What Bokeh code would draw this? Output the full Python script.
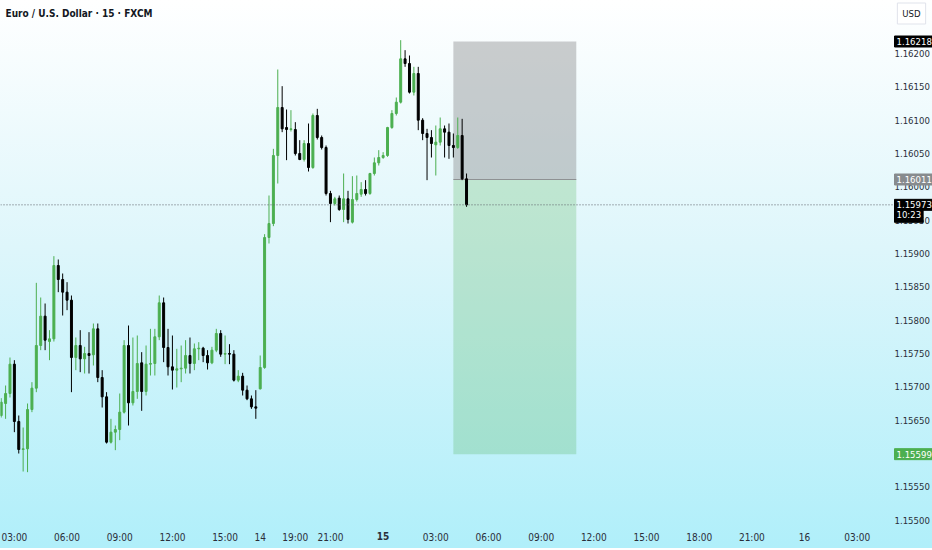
import numpy as np
from bokeh.plotting import figure
from bokeh.models import (ColumnDataSource, FixedTicker, Label, Span, Range1d,
                          PrintfTickFormatter, LinearAxis)
from bokeh.embed import file_html
from bokeh.resources import INLINE

# ---------------- data (EUR/USD, 15 min bars) ----------------
opens = [1.15657, 1.15675, 1.15690, 1.15734, 1.15648, 1.15606, 1.15607, 1.15666, 1.15698, 1.15762,
         1.15806, 1.15768, 1.15772, 1.15882, 1.15861, 1.15842, 1.15830, 1.15744, 1.15762, 1.15742,
         1.15750, 1.15748, 1.15787, 1.15714, 1.15685, 1.15617, 1.15632, 1.15636, 1.15662, 1.15762,
         1.15676, 1.15693, 1.15736, 1.15693, 1.15734, 1.15735, 1.15775, 1.15826, 1.15759, 1.15730,
         1.15725, 1.15727, 1.15728, 1.15747, 1.15735, 1.15757, 1.15758, 1.15747, 1.15736, 1.15755,
         1.15780, 1.15749, 1.15750, 1.15749, 1.15710, 1.15716, 1.15695, 1.15682, 1.15670, 1.15697,
         1.15729, 1.15924, 1.15945, 1.16047, 1.16119, 1.16089, 1.16086, 1.16086, 1.16050, 1.16041,
         1.16065, 1.16029, 1.16107, 1.16074, 1.16059, 1.15990, 1.15975, 1.15983, 1.15966, 1.15982,
         1.15947, 1.15981, 1.15989, 1.15996, 1.15990, 1.16020, 1.16036, 1.16044, 1.16047, 1.16089,
         1.16110, 1.16127, 1.16192, 1.16185, 1.16142, 1.16170, 1.16100, 1.16080, 1.16074, 1.16063,
         1.16067, 1.16087, 1.16082, 1.16062, 1.16059, 1.16077, 1.16012]
highs = [1.15683, 1.15702, 1.15744, 1.15740, 1.15657, 1.15639, 1.15675, 1.15707, 1.15856, 1.15834,
         1.15825, 1.15785, 1.15896, 1.15891, 1.15870, 1.15857, 1.15837, 1.15774, 1.15785, 1.15760,
         1.15782, 1.15795, 1.15795, 1.15725, 1.15692, 1.15652, 1.15642, 1.15690, 1.15770, 1.15792,
         1.15774, 1.15777, 1.15752, 1.15762, 1.15787, 1.15787, 1.15837, 1.15834, 1.15787, 1.15777,
         1.15757, 1.15762, 1.15770, 1.15774, 1.15765, 1.15767, 1.15760, 1.15755, 1.15760, 1.15787,
         1.15785, 1.15777, 1.15764, 1.15755, 1.15725, 1.15721, 1.15702, 1.15687, 1.15695, 1.15747,
         1.15929, 1.15987, 1.16057, 1.16176, 1.16151, 1.16116, 1.16115, 1.16097, 1.16070, 1.16070,
         1.16095, 1.16110, 1.16117, 1.16077, 1.16062, 1.15994, 1.15985, 1.15987, 1.16020, 1.15994,
         1.16016, 1.16017, 1.16007, 1.16010, 1.16021, 1.16044, 1.16055, 1.16052, 1.16090, 1.16115,
         1.16134, 1.16220, 1.16205, 1.16197, 1.16180, 1.16180, 1.16103, 1.16087, 1.16085, 1.16092,
         1.16104, 1.16092, 1.16095, 1.16080, 1.16104, 1.16102, 1.16020]
lows = [1.15654, 1.15652, 1.15684, 1.15632, 1.15600, 1.15573, 1.15572, 1.15662, 1.15692, 1.15755,
        1.15755, 1.15740, 1.15768, 1.15842, 1.15807, 1.15815, 1.15692, 1.15725, 1.15722, 1.15720,
        1.15720, 1.15732, 1.15707, 1.15669, 1.15615, 1.15615, 1.15605, 1.15620, 1.15660, 1.15642,
        1.15672, 1.15682, 1.15664, 1.15687, 1.15717, 1.15717, 1.15770, 1.15737, 1.15717, 1.15696,
        1.15699, 1.15707, 1.15720, 1.15720, 1.15725, 1.15740, 1.15737, 1.15726, 1.15734, 1.15752,
        1.15745, 1.15734, 1.15734, 1.15708, 1.15707, 1.15687, 1.15680, 1.15667, 1.15652, 1.15696,
        1.15727, 1.15915, 1.15941, 1.16005, 1.16082, 1.16040, 1.16083, 1.16047, 1.16040, 1.16038,
        1.16023, 1.16027, 1.16071, 1.16056, 1.15987, 1.15947, 1.15972, 1.15964, 1.15947, 1.15945,
        1.15945, 1.15978, 1.15985, 1.15987, 1.15988, 1.16017, 1.16032, 1.16042, 1.16045, 1.16087,
        1.16107, 1.16125, 1.16180, 1.16140, 1.16137, 1.16085, 1.16070, 1.16010, 1.16044, 1.16017,
        1.16062, 1.16044, 1.16042, 1.16044, 1.16057, 1.16010, 1.15970]
closes = [1.15677, 1.15690, 1.15734, 1.15648, 1.15606, 1.15607, 1.15666, 1.15698, 1.15762, 1.15806,
          1.15770, 1.15772, 1.15882, 1.15861, 1.15842, 1.15830, 1.15744, 1.15762, 1.15742, 1.15750,
          1.15747, 1.15787, 1.15714, 1.15685, 1.15617, 1.15632, 1.15636, 1.15662, 1.15762, 1.15676,
          1.15693, 1.15735, 1.15693, 1.15734, 1.15735, 1.15775, 1.15826, 1.15759, 1.15730, 1.15725,
          1.15727, 1.15728, 1.15747, 1.15735, 1.15757, 1.15758, 1.15747, 1.15736, 1.15755, 1.15780,
          1.15749, 1.15750, 1.15749, 1.15710, 1.15716, 1.15695, 1.15682, 1.15670, 1.15668, 1.15729,
          1.15924, 1.15945, 1.16047, 1.16119, 1.16087, 1.16086, 1.16087, 1.16050, 1.16041, 1.16065,
          1.16029, 1.16107, 1.16074, 1.16059, 1.15990, 1.15975, 1.15982, 1.15966, 1.15982, 1.15951,
          1.15981, 1.15990, 1.15996, 1.15990, 1.16020, 1.16036, 1.16044, 1.16047, 1.16089, 1.16110,
          1.16127, 1.16192, 1.16185, 1.16142, 1.16170, 1.16100, 1.16080, 1.16074, 1.16065, 1.16067,
          1.16087, 1.16082, 1.16062, 1.16059, 1.16077, 1.16012, 1.15973]

# time-axis ticks (bar index -> label); the day label "15" is drawn bold
x_tick_bars = [4, 16, 28, 40, 52, 60, 68, 76, 100, 112, 124, 136, 148, 160, 172, 184, 196]
x_tick_labels = ["03:00", "06:00", "09:00", "12:00", "15:00", "14", "19:00", "21:00", "03:00",
                 "06:00", "09:00", "12:00", "15:00", "18:00", "21:00", "16", "03:00"]
bold_tick_bars = [88]
bold_tick_labels = ["15"]
y_ticks = [1.15500, 1.15550, 1.15600, 1.15650, 1.15700, 1.15750, 1.15800, 1.15850,
           1.15900, 1.15950, 1.16000, 1.16050, 1.16100, 1.16150, 1.16200]

# short position tool
pos_start_bar, pos_end_bar = 104, 132
stop_price, entry_price, target_price = 1.16218, 1.16011, 1.15599
last_price = 1.15973
countdown = "10:23"
title_text = "Euro / U.S. Dollar \u00b7 15 \u00b7 FXCM"

# ---------------- styling / layout ----------------
FONT = "'Liberation Sans Narrow', 'DejaVu Sans Condensed', 'Roboto Condensed', Roboto, sans-serif"
UP, DOWN = "#4caf50", "#000000"
W, H = 932, 548
X0 = 0.84
PXI = 1 / 4.39                 # bar index per pixel
XE = X0 + W * PXI              # full canvas width (chart + price scale)
X_SCALE = X0 + 880 * PXI       # left edge of the price scale
Y1 = 1.162795
PXY = 0.000015                 # price per pixel
Y0 = Y1 - H * PXY              # full canvas height (chart + time scale)
Y_SCALE = Y1 - 526 * PXY       # top edge of the time scale

p = figure(width=W, height=H, x_range=Range1d(X0, XE), y_range=Range1d(Y0, Y1),
           y_axis_location="right", output_backend="svg", toolbar_location=None,
           background_fill_color=None, border_fill_color=None, outline_line_color=None,
           min_border_left=0, min_border_top=0, min_border_right=0, min_border_bottom=0)
p.styles = {"background": "linear-gradient(180deg, #ffffff 0%, #def6fb 45%, #b0effa 100%)"}
p.xgrid.visible = False
p.ygrid.visible = False

def style_axis(ax, size="10px"):
    ax.axis_line_color = None
    ax.major_tick_line_color = None
    ax.minor_tick_line_color = None
    ax.major_tick_out = 0
    ax.major_tick_in = 0
    ax.minor_tick_out = 0
    ax.major_label_text_font = FONT
    ax.major_label_text_font_size = size
    ax.major_label_text_color = "#2a2e39"

xa = p.xaxis[0]
style_axis(xa)
xa.ticker = FixedTicker(ticks=x_tick_bars)
xa.major_label_overrides = {b: t for b, t in zip(x_tick_bars, x_tick_labels)}
xa.major_label_standoff = 5
xa.fixed_location = Y_SCALE

xb = LinearAxis(ticker=FixedTicker(ticks=bold_tick_bars),
                major_label_overrides={b: t for b, t in zip(bold_tick_bars, bold_tick_labels)})
style_axis(xb)
xb.major_label_text_font_style = "bold"
xb.major_label_standoff = 5
xb.fixed_location = Y_SCALE
p.add_layout(xb, "below")

ya = p.yaxis[0]
style_axis(ya, "9.5px")
ya.ticker = FixedTicker(ticks=y_ticks)
ya.formatter = PrintfTickFormatter(format="%.5f")
ya.major_label_standoff = 14
ya.fixed_location = X_SCALE

# position boxes
p.quad(left=[pos_start_bar], right=[pos_end_bar], bottom=[entry_price], top=[stop_price],
       fill_color="#8e9193", fill_alpha=0.45, line_color=None)
p.quad(left=[pos_start_bar], right=[pos_end_bar], bottom=[target_price], top=[entry_price],
       fill_color="#4caf50", fill_alpha=0.25, line_color=None)
p.segment(x0=[pos_start_bar], x1=[pos_end_bar], y0=[entry_price], y1=[entry_price],
          line_color="#8e9193", line_width=1)

# candles
o = np.array(opens); h = np.array(highs); l = np.array(lows); c = np.array(closes)
idx = np.arange(1, len(o) + 1)
up = c >= o
for mask, col in ((up, UP), (~up, DOWN)):
    src = ColumnDataSource(dict(x=idx[mask], hi=h[mask], lo=l[mask],
                                top=np.maximum(o, c)[mask], bot=np.minimum(o, c)[mask]))
    p.segment(x0="x", y0="hi", x1="x", y1="lo", source=src, line_color=col, line_width=1)
    p.vbar(x="x", width=0.45, top="top", bottom="bot", source=src,
           fill_color=col, line_color=col, line_width=1)

# last price dotted line
p.add_layout(Span(location=last_price, dimension="width", line_color="#5d606b",
                  line_dash="1 2", line_width=1))

def tag(y, text, bg, fg="#ffffff", border=None, x=None, size="9.5px", pad=2, align="left"):
    kw = dict(x=X_SCALE + 14 * PXI if x is None else x, y=y, text=text, text_color=fg,
              text_font=FONT, text_font_size=size, text_baseline="middle",
              text_align=align, background_fill_color=bg,
              border_line_color=border if border else bg)
    try:
        lab = Label(padding=pad, **kw)
    except Exception:
        lab = Label(**kw)
    p.add_layout(lab)

tag(stop_price, "%.5f" % stop_price, "#000000")
tag(entry_price, "%.5f" % entry_price, "#878b8e")
tag(last_price - 10 * PXY, countdown, "#000000")
tag(last_price, "%.5f" % last_price, "#000000")
tag(target_price, "%.5f" % target_price, "#4caf50")
tag(Y1 - 13 * PXY, "USD", "#ffffff", fg="#131722", border="#e0e3eb",
    x=X_SCALE + 31 * PXI, pad=5, align="center")

# title
p.add_layout(Label(x=X0 + 5 * PXI, y=Y1 - 13 * PXY, text=title_text, text_font=FONT,
                   text_font_size="10px", text_font_style="bold", text_color="#131722",
                   text_baseline="middle", text_align="left"))

open("out.html", "w").write(file_html(p, INLINE))
